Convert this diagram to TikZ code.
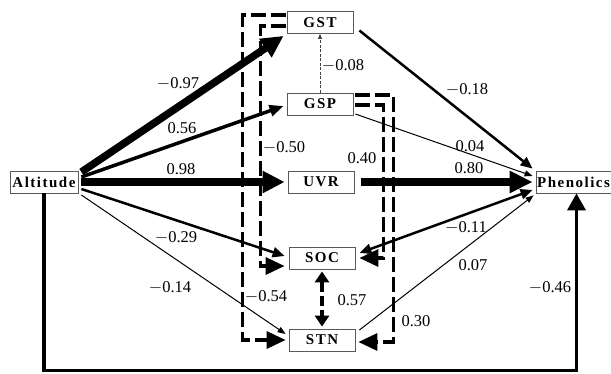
\documentclass[tikz,border=0pt]{standalone}
\usepackage{fontspec}
\setmainfont{Liberation Serif}
\newfontfamily\boxfont[LetterSpace=10]{Liberation Serif}
\usetikzlibrary{arrows.meta, calc}

\begin{document}
\begin{tikzpicture}[
  x=1pt, y=-1pt,
  var/.style={draw=gray!70!black, line width=0.8pt, fill=white, minimum width=66pt, minimum height=22pt, inner sep=1pt, font=\boxfont\fontsize{15}{17}\selectfont\bfseries},
  coef/.style={font=\fontsize{16.5}{18}\selectfont, inner sep=0pt},
  thinpath/.style={line width=1pt, -{Triangle[length=8pt,width=6pt]}},
  midpath/.style={line width=2.5pt, -{Triangle[length=12pt,width=10pt]}},
  bigpath/.style={line width=3.5pt, -{Triangle[length=14pt,width=11pt]}},
  hugepath/.style={line width=7.5pt, -{Triangle[length=22pt,width=21pt]}},
  covpath/.style={line width=3.3pt, dash pattern=on 15pt off 5pt, -{Triangle[length=19pt,width=17pt]}}
]
\useasboundingbox (0,0) rectangle (611,373);

% Variables
\node[var, minimum width=68pt] (alt) at (44,182) {Altitude};
\node[var, minimum width=75pt] (phen) at (573.5,182) {Phenolics};
\node[var] (gst) at (320,22.5) {GST};
\node[var] (gsp) at (320,104) {GSP};
\node[var] (uvr) at (321,182) {UVR};
\node[var] (soc) at (322,258) {SOC};
\node[var] (stn) at (322,340) {STN};

% Altitude effects
\draw[hugepath] ($(alt.east)+(3,-10)$) -- ($(gst.south west)+(-3,2)$);
\draw[bigpath] ($(alt.east)+(3,-5)$) -- ($(gsp.west)+(-3,2)$);
\draw[hugepath] ($(alt.east)+(3,0)$) -- ($(uvr.west)+(-3,0)$);
\draw[midpath] ($(alt.east)+(3,7)$) -- ($(soc.west)+(-4,-2)$);
\draw[thinpath] ($(alt.east)+(3,13)$) -- ($(stn.west)+(-3,-6)$);
\draw[bigpath, -{Triangle[length=17pt,width=18pt]}] (alt.south) -- ($(alt.south)+(0,177)$) -| ($(phen.south)+(3,0)$);

% Effects on phenolics
\draw[midpath] ($(gst.east)+(6,8)$) -- ($(phen.north west)+(-3,-2)$);
\draw[thinpath] ($(gsp.east)+(2,10)$) -- ($(phen.west)+(-3,-6)$);
\draw[hugepath, -{Triangle[length=23pt,width=21pt]}] ($(uvr.east)+(7,0)$) -- ($(phen.west)+(-3,0)$);
\draw[midpath, {Triangle[length=12pt,width=10pt]}-{Triangle[length=12pt,width=10pt]}] ($(soc.east)+(4,-5)$) -- ($(phen.west)+(-3,8)$);
\draw[thinpath] ($(stn.east)+(4,-10)$) -- ($(phen.south west)+(-2,2)$);

% Covariances
\draw[covpath] ($(gst.west)+(-1,-7.5)$) -- ++(-43,0) |- ($(stn.west)+(-3,0)$);
\draw[covpath] ($(gst.west)+(-1,3.5)$) -- ++(-25,0) |- ($(soc.west)+(-4,8)$);
\draw[covpath] ($(gsp.east)+(2,1)$) -- ++(28,0) |- ($(soc.east)+(4,0)$);
\draw[covpath] ($(gsp.east)+(2,-9)$) -- ++(38,0) |- ($(stn.east)+(3,2)$);
\draw[line width=4.5pt, dash pattern=on 10pt off 4pt, {Triangle[length=11pt,width=14pt]}-{Triangle[length=11pt,width=14pt]}] ($(soc.south)+(0,2)$) -- ($(stn.north)+(0,-2)$);
\draw[gray!50!black, line width=1pt, dash pattern=on 3pt off 1.5pt, -{Triangle[length=5pt,width=4pt]}] (gsp.north) -- (gst.south);

% Path coefficients
\node[coef] (c1) at (178,84) {$-$0.97};
\node[coef] (c2) at (182,128) {0.56};
\node[coef] (c3) at (181,169) {0.98};
\node[coef] (c4) at (176,238) {$-$0.29};
\node[coef] (c5) at (170,288) {$-$0.14};
\node[coef] (c6) at (284,148) {$-$0.50};
\node[coef] (c7) at (362,158) {0.40};
\node[coef] (c8) at (343,66) {$-$0.08};
\node[coef] (c9) at (467,90) {$-$0.18};
\node[coef] (c10) at (470,146) {0.04};
\node[coef] (c11) at (469,168) {0.80};
\node[coef] (c12) at (466,228) {$-$0.11};
\node[coef] (c13) at (473,265) {0.07};
\node[coef] (c14) at (550,288) {$-$0.46};
\node[coef] (c15) at (266,297) {$-$0.54};
\node[coef] (c16) at (352,300) {0.57};
\node[coef] (c17) at (416,321) {0.30};

\end{tikzpicture}
\end{document}
